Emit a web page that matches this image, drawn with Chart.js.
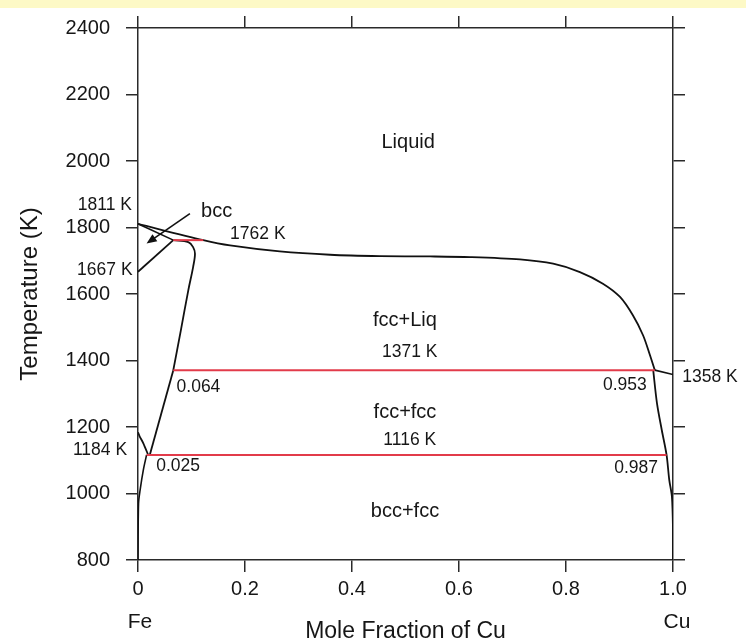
<!DOCTYPE html>
<html lang="en">
<head>
    <meta charset="UTF-8">
    <title>Fe-Cu Phase Diagram</title>
    <script src="https://cdn.jsdelivr.net/npm/chart.js"></script>
    <style>
        body { margin: 0; background: #fff; }
        #wrap { width: 746px; height: 643px; }
    </style>
</head>
<body>
    <div id="wrap"><canvas id="phase-chart" width="746" height="643"></canvas></div>

    <script>
        // phase boundaries, mole fraction Cu vs temperature (K)
        const liquidusX = [0, 0.122, 0.172, 0.265, 0.359, 0.452, 0.546, 0.621, 0.714, 0.776, 0.826, 0.869, 0.901, 0.925, 0.944, 0.957, 0.966];
        const liquidusT = [1811, 1762, 1746, 1728, 1718, 1714, 1713, 1711, 1704, 1691, 1666, 1631, 1591, 1536, 1476, 1416, 1371];
        const cuLiqX = [0.966, 1.0];
        const cuLiqT = [1371, 1358];
        const cuSolvusX = [0.963, 0.970, 0.979, 0.988, 0.993, 0.998, 1.0, 1.0];
        const cuSolvusT = [1371, 1272, 1191, 1116, 1041, 990, 891, 800];
        const bccSolidusX = [0, 0.066];
        const bccSolidusT = [1811, 1762];
        const bccFccX = [0, 0.066];
        const bccFccT = [1667, 1762];
        const fccSolidusX = [0.066, 0.094, 0.103, 0.1065, 0.103, 0.094, 0.08, 0.066];
        const fccSolidusT = [1762, 1756, 1741, 1721, 1681, 1611, 1490, 1371];
        const fccSolvusX = [0.066, 0.022];
        const fccSolvusT = [1371, 1116];
        const gammaAlphaX = [0, 0.003, 0.01, 0.019];
        const gammaAlphaT = [1184, 1172, 1151, 1116];
        const bccSolvusX = [0.016, 0.01, 0.004, 0.001, 0];
        const bccSolvusT = [1116, 1071, 1011, 970, 800];

        // invariant reactions (red isotherms)
        const isoT = [1762, 1371, 1116];
        const isoFrom = [0.066, 0.066, 0.016];
        const isoTo = [0.122, 0.966, 0.988];

        const xTicks = [0, 0.2, 0.4, 0.6, 0.8, 1.0];
        const yTicks = [800, 1000, 1200, 1400, 1600, 1800, 2000, 2200, 2400];

        const FONT = "'Liberation Sans', Arial, Helvetica, sans-serif";
        const INK = '#161616';
        const AXIS = '#2a2a2a';
        const RED = '#e23b4a';

        // text annotations: [text, x, T, size]
        const notes = [
            ['Liquid', 0.505, 2055, 20],
            ['fcc+Liq', 0.499, 1521, 20],
            ['1371 K', 0.508, 1425, 17.5],
            ['fcc+fcc', 0.499, 1245, 20],
            ['1116 K', 0.508, 1161, 17.5],
            ['bcc+fcc', 0.499, 945, 20],
            ['0.064', 0.113, 1321, 17.5],
            ['0.025', 0.075, 1081, 17.5],
            ['0.953', 0.910, 1326, 17.5],
            ['0.987', 0.931, 1077, 17.5],
            ['1358 K', 1.069, 1350, 17.5],
            ['1811 K', -0.062, 1866, 17.5],
            ['1667 K', -0.062, 1671, 17.5],
            ['1184 K', -0.071, 1131, 17.5],
            ['bcc', 0.147, 1849, 20],
            ['1762 K', 0.224, 1781, 17.5]
        ];

        function boundary(xs, ts, color, width, tension) {
            return {
                data: xs.map((x, i) => ({ x: x, y: ts[i] })),
                showLine: true,
                borderColor: color,
                borderWidth: width,
                pointRadius: 0,
                tension: tension,
                fill: false
            };
        }

        const datasets = [
            ...isoT.map((t, i) => boundary([isoFrom[i], isoTo[i]], [t, t], RED, 2, 0)),
            boundary(liquidusX, liquidusT, '#111', 1.8, 0.3),
            boundary(cuLiqX, cuLiqT, '#111', 1.6, 0),
            boundary(cuSolvusX, cuSolvusT, '#111', 1.8, 0.3),
            boundary(bccSolidusX, bccSolidusT, '#111', 1.6, 0),
            boundary(bccFccX, bccFccT, '#111', 1.8, 0),
            boundary(fccSolidusX, fccSolidusT, '#111', 1.8, 0.35),
            boundary(fccSolvusX, fccSolvusT, '#111', 1.8, 0),
            boundary(gammaAlphaX, gammaAlphaT, '#111', 1.8, 0.3),
            boundary(bccSolvusX, bccSolvusT, '#111', 1.6, 0.3)
        ];

        const frame = {
            drawOnChartArea: false,
            tickLength: 12,
            color: AXIS,
            lineWidth: 1.5
        };
        const border = { color: AXIS, width: 1.5 };

        const paperPlugin = {
            id: 'paper',
            beforeDraw(chart) {
                const ctx = chart.ctx;
                ctx.save();
                ctx.fillStyle = '#fff';
                ctx.fillRect(0, 0, chart.width, chart.height);
                ctx.fillStyle = '#fdf9c6';
                ctx.fillRect(0, 0, chart.width, 8);
                ctx.restore();
            }
        };

        const notesPlugin = {
            id: 'notes',
            afterDraw(chart) {
                const ctx = chart.ctx;
                const xs = chart.scales.x, ys = chart.scales.y;
                ctx.save();
                ctx.fillStyle = INK;
                ctx.textAlign = 'center';
                ctx.textBaseline = 'middle';
                notes.forEach(([text, x, t, size]) => {
                    ctx.font = `${size}px ${FONT}`;
                    ctx.fillText(text, xs.getPixelForValue(x), ys.getPixelForValue(t));
                });

                // element names under the end ticks
                ctx.font = `21px ${FONT}`;
                const yName = chart.chartArea.bottom + 62;
                ctx.fillText('Fe', xs.getPixelForValue(0) + 2, yName);
                ctx.fillText('Cu', xs.getPixelForValue(1) + 4, yName);

                // arrow pointing at the bcc field
                const x0 = xs.getPixelForValue(0.097), y0 = ys.getPixelForValue(1842);
                const x1 = xs.getPixelForValue(0.016), y1 = ys.getPixelForValue(1752);
                const ang = Math.atan2(y1 - y0, x1 - x0);
                ctx.strokeStyle = '#111';
                ctx.lineWidth = 1.6;
                ctx.beginPath();
                ctx.moveTo(x0, y0);
                ctx.lineTo(x1 - 6 * Math.cos(ang), y1 - 6 * Math.sin(ang));
                ctx.stroke();
                ctx.fillStyle = '#111';
                ctx.beginPath();
                ctx.moveTo(x1, y1);
                ctx.lineTo(x1 - 11 * Math.cos(ang - 0.4), y1 - 11 * Math.sin(ang - 0.4));
                ctx.lineTo(x1 - 11 * Math.cos(ang + 0.4), y1 - 11 * Math.sin(ang + 0.4));
                ctx.closePath();
                ctx.fill();
                ctx.restore();
            }
        };

        new Chart(document.getElementById('phase-chart'), {
            type: 'scatter',
            data: { datasets: datasets },
            options: {
                responsive: false,
                animation: false,
                layout: { padding: 0 },
                plugins: { legend: { display: false }, tooltip: { enabled: false } },
                scales: {
                    x: {
                        type: 'linear', position: 'bottom',
                        min: xTicks[0], max: xTicks[xTicks.length - 1],
                        afterBuildTicks: s => { s.ticks = xTicks.map(v => ({ value: v })); },
                        ticks: {
                            callback: v => v === 0 ? '0' : v.toFixed(1),
                            font: { family: FONT, size: 20 }, color: INK,
                            padding: 5, maxRotation: 0, autoSkip: false
                        },
                        grid: frame, border: border,
                        title: {
                            display: true, text: 'Mole Fraction of Cu', color: INK,
                            font: { family: FONT, size: 23, lineHeight: 1 },
                            padding: { top: 0, bottom: 0 }
                        },
                        afterFit: s => { s.height = 83; }
                    },
                    x2: {
                        type: 'linear', position: 'top',
                        min: xTicks[0], max: xTicks[xTicks.length - 1],
                        afterBuildTicks: s => { s.ticks = xTicks.map(v => ({ value: v })); },
                        ticks: { display: false },
                        grid: frame, border: border,
                        afterFit: s => { s.height = 27; }
                    },
                    y: {
                        type: 'linear', position: 'left',
                        min: yTicks[0], max: yTicks[yTicks.length - 1],
                        afterBuildTicks: s => { s.ticks = yTicks.map(v => ({ value: v })); },
                        ticks: {
                            callback: v => String(v),
                            font: { family: FONT, size: 20 }, color: INK,
                            padding: 16, autoSkip: false
                        },
                        grid: frame, border: border,
                        title: {
                            display: true, text: 'Temperature (K)', color: INK,
                            font: { family: FONT, size: 24 },
                            padding: { top: 16, bottom: 0 }
                        },
                        afterFit: s => { s.width = 138; }
                    },
                    y2: {
                        type: 'linear', position: 'right',
                        min: yTicks[0], max: yTicks[yTicks.length - 1],
                        afterBuildTicks: s => { s.ticks = yTicks.map(v => ({ value: v })); },
                        ticks: { display: false },
                        grid: frame, border: border,
                        afterFit: s => { s.width = 73; }
                    }
                }
            },
            plugins: [paperPlugin, notesPlugin]
        });
    </script>
</body>
</html>
